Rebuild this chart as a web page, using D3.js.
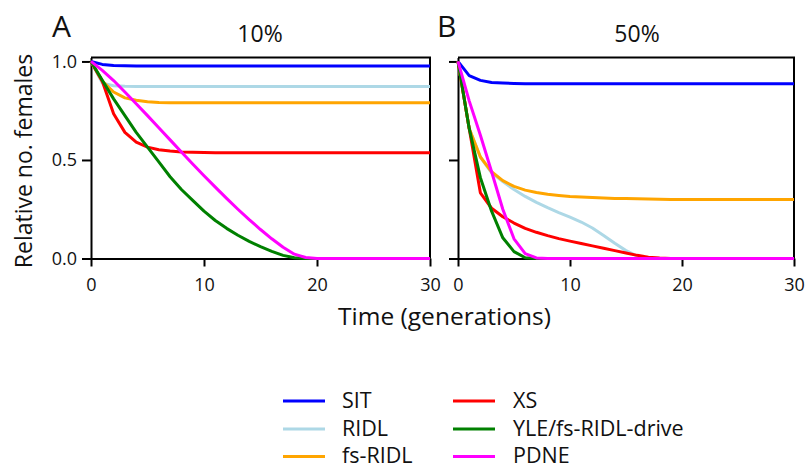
<!DOCTYPE html>
<html>
<head>
<meta charset="utf-8">
<script src="https://cdn.jsdelivr.net/npm/d3@7"></script>
<style>
  html, body { margin: 0; padding: 0; background: #fff; }
  svg { display: block; }
  text { font-family: "Open Sans", "DejaVu Sans", sans-serif; fill: #111; }
</style>
</head>
<body>
<svg id="chart" width="808" height="469"></svg>
<script>
// ---------------- data ----------------
const generations = d3.range(0, 31);
const seriesNames = ["SIT", "RIDL", "fs-RIDL", "XS", "YLE/fs-RIDL-drive", "PDNE"];
const seriesColors = ["#0000ff", "#add8e6", "#ffa500", "#ff0000", "#008000", "#ff00ff"];
const panelTitles = ["10%", "50%"];
const panelLetters = ["A", "B"];
const xTicks = [0, 10, 20, 30];
const yTicks = [0, 0.5, 1.0];

// Panel A (10%)
const sitA  = [1,0.985,0.98,0.978,0.977,0.977,0.977,0.977,0.977,0.977,
               0.977,0.977,0.977,0.977,0.977,0.977,0.977,0.977,0.977,0.977,
               0.977,0.977,0.977,0.977,0.977,0.977,0.977,0.977,0.977,0.977,0.977];
const ridlA = [1,0.89,0.877,0.874,0.873,0.873,0.873,0.873,0.873,0.873,
               0.873,0.873,0.873,0.873,0.873,0.873,0.873,0.873,0.873,0.873,
               0.873,0.873,0.873,0.873,0.873,0.873,0.873,0.873,0.873,0.873,0.873];
const fsA   = [1,0.9,0.845,0.815,0.803,0.796,0.792,0.79,0.79,0.79,
               0.79,0.79,0.79,0.79,0.79,0.79,0.79,0.79,0.79,0.79,
               0.79,0.79,0.79,0.79,0.79,0.79,0.79,0.79,0.79,0.79,0.79];
const xsA   = [1,0.9,0.735,0.64,0.59,0.565,0.552,0.545,0.541,0.539,
               0.538,0.537,0.537,0.537,0.537,0.537,0.537,0.537,0.537,0.537,
               0.537,0.537,0.537,0.537,0.537,0.537,0.537,0.537,0.537,0.537,0.537];
const yleA  = [1,0.905,0.81,0.725,0.64,0.565,0.49,0.415,0.35,0.295,
               0.24,0.193,0.153,0.118,0.087,0.06,0.036,0.016,0.004,0,
               0,0,0,0,0,0,0,0,0,0,0];
const pdneA = [1,0.955,0.903,0.845,0.785,0.725,0.663,0.602,0.54,0.48,
               0.42,0.362,0.305,0.25,0.197,0.147,0.1,0.057,0.022,0.005,
               0,0,0,0,0,0,0,0,0,0,0];

// Panel B (50%)
const sitB  = [1,0.928,0.904,0.893,0.89,0.888,0.887,0.887,0.887,0.887,
               0.887,0.887,0.887,0.887,0.887,0.887,0.887,0.887,0.887,0.887,
               0.887,0.887,0.887,0.887,0.887,0.887,0.887,0.887,0.887,0.887,0.887];
const ridlB = [1,0.66,0.515,0.435,0.39,0.35,0.315,0.285,0.258,0.233,
               0.21,0.185,0.155,0.117,0.077,0.04,0.012,0.002,0,0,
               0,0,0,0,0,0,0,0,0,0,0];
const fsB   = [1,0.66,0.515,0.44,0.395,0.366,0.347,0.335,0.326,0.32,
               0.315,0.312,0.309,0.307,0.305,0.304,0.303,0.302,0.301,0.3,
               0.3,0.3,0.3,0.3,0.3,0.3,0.3,0.3,0.3,0.3,0.3];
const xsB   = [1,0.66,0.333,0.255,0.212,0.18,0.153,0.133,0.116,0.101,
               0.088,0.076,0.064,0.052,0.04,0.028,0.016,0.007,0.002,0,
               0,0,0,0,0,0,0,0,0,0,0];
const yleB  = [1,0.66,0.41,0.24,0.105,0.035,0.004,0,0,0,
               0,0,0,0,0,0,0,0,0,0,
               0,0,0,0,0,0,0,0,0,0,0];
const pdneB = [1,0.8,0.625,0.44,0.25,0.1,0.025,0.003,0,0,
               0,0,0,0,0,0,0,0,0,0,
               0,0,0,0,0,0,0,0,0,0,0];

const panelSeries = [
  [sitA, ridlA, fsA, xsA, yleA, pdneA],
  [sitB, ridlB, fsB, xsB, yleB, pdneB]
];

// ---------------- layout ----------------
const svg = d3.select("#chart");
svg.append("rect").attr("width", 808).attr("height", 469).attr("fill", "#fff");

const yTop = 57.5, yBot = 258.5;
const panels = [
  { x0: 91, x1: 430, titleX: 260, letterX: 52, showY: true },
  { x0: 458, x1: 794, titleX: 637, letterX: 437, showY: false }
];
const y = d3.scaleLinear().domain([0, 1.02]).range([yBot, yTop]);

panels.forEach((p, pi) => {
  const x = d3.scaleLinear().domain([0, 30]).range([p.x0, p.x1]);
  const g = svg.append("g");

  const yAxis = d3.axisLeft(y).tickValues(yTicks).tickSize(9).tickSizeOuter(0).tickPadding(5)
    .tickFormat(p.showY ? d3.format(".1f") : () => "");
  const gy = g.append("g").attr("transform", `translate(${p.x0},0)`).call(yAxis);
  const xAxis = d3.axisBottom(x).tickValues(xTicks).tickSize(8).tickSizeOuter(0).tickPadding(12)
    .tickFormat(d3.format("d"));
  const gx = g.append("g").attr("transform", `translate(0,${yBot})`).call(xAxis);

  [gx, gy].forEach(a => {
    a.select(".domain").attr("stroke", "#000").attr("stroke-width", 2);
    a.selectAll(".tick line").attr("stroke", "#000").attr("stroke-width", 2);
    a.selectAll(".tick text").attr("font-size", 18).attr("fill", "#111")
      .attr("font-family", "'Open Sans', sans-serif");
  });

  g.append("path")
    .attr("d", `M${p.x0},${yTop}H${p.x1}V${yBot}`)
    .attr("fill", "none").attr("stroke", "#000").attr("stroke-width", 2);

  const line = d3.line().x((d, i) => x(generations[i])).y(d => y(d)).curve(d3.curveLinear);
  panelSeries[pi].forEach((vals, si) => {
    g.append("path").datum(vals)
      .attr("d", line)
      .attr("fill", "none")
      .attr("stroke", seriesColors[si])
      .attr("stroke-width", 3)
      .attr("stroke-linejoin", "round");
  });

  svg.append("text").attr("x", p.titleX).attr("y", 42).attr("text-anchor", "middle")
    .attr("font-size", 23).text(panelTitles[pi]);
  svg.append("text").attr("x", p.letterX).attr("y", 36.5)
    .attr("font-size", 30).text(panelLetters[pi]);
});

svg.append("text").attr("transform", "translate(32,161) rotate(-90)")
  .attr("text-anchor", "middle").attr("font-size", 23).text("Relative no. females");
svg.append("text").attr("x", 444.5).attr("y", 325).attr("text-anchor", "middle")
  .attr("font-size", 24.5).text("Time (generations)");

const legendCols = [{ lx: 283, tx: 342 }, { lx: 453, tx: 513 }];
const legendRows = [401, 429, 456.5];
seriesNames.forEach((name, i) => {
  const c = legendCols[Math.floor(i / 3)];
  const ry = legendRows[i % 3];
  svg.append("line").attr("x1", c.lx).attr("x2", c.lx + 42).attr("y1", ry).attr("y2", ry)
    .attr("stroke", seriesColors[i]).attr("stroke-width", 3);
  svg.append("text").attr("x", c.tx).attr("y", ry + 6.5).attr("font-size", 21.5).text(name);
});
</script>
</body>
</html>
